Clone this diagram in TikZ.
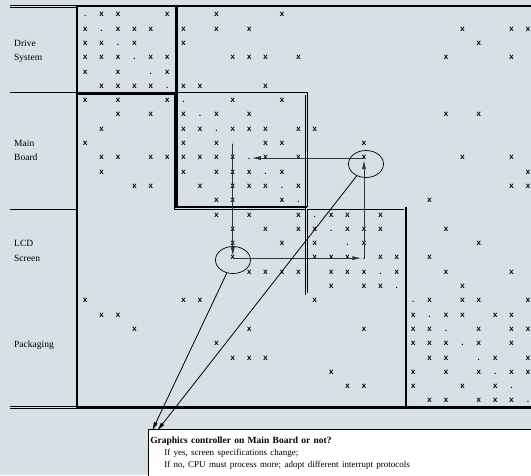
\documentclass[tikz,border=0pt]{standalone}
\usepackage{fontspec}
\setmainfont{Liberation Serif}
\newfontfamily\cellfont{Liberation Mono}
\usetikzlibrary{arrows.meta,shapes.geometric}
\definecolor{panel}{RGB}{214,224,229}
\begin{document}
\begin{tikzpicture}[x=1pt,y=-1pt,
  dsmx/.style={inner sep=0pt,text height=3.6pt,text depth=0pt,font=\cellfont\bfseries\fontsize{8}{8}\selectfont},
  rowname/.style={anchor=base west,inner sep=0pt,font=\fontsize{9.5}{11}\selectfont},
  rule/.style={line width=0.6pt,double=panel,double distance=1.6pt},
  heavy/.style={line width=2.8pt},
  flow/.style={line width=0.8pt,draw=black!80,-{Latex[length=9pt,width=4pt]}},
  ring/.style={draw,ellipse,line width=0.7pt,inner sep=0pt,minimum width=35pt,minimum height=27pt}]
\fill[panel] (0,0) rectangle (531,475);
\useasboundingbox (0,0) rectangle (531,475);
% row labels
\node[rowname] (drv1) at (14,46) {Drive};
\node[rowname] (drv2) at (14,60) {System};
\node[rowname] (brd1) at (14,146.7) {Main};
\node[rowname] (brd2) at (14,160.7) {Board};
\node[rowname] (lcd1) at (14,246.7) {LCD};
\node[rowname] (lcd2) at (14,261) {Screen};
\node[rowname] (pkg1) at (14,347.7) {Packaging};
% label column rules
\foreach \y in {6.5,93.7,208.1,293.9,407.5}
  \draw[rule] (10,\y) -- (77,\y);
% block frames
\draw[rule] (175.4,93.7) rectangle (306.6,208.1);
\draw[rule] (306.6,208.1) rectangle (405,293.9);
\draw[rule] (405,293.9) rectangle (540,407.5);
\draw[heavy] (77,5) -- (77,409);
\draw[heavy] (77,6) -- (531,6);
\draw[heavy] (77,407.5) -- (531,407.5);
\draw[heavy] (176.5,6) -- (176.5,207) -- (306.6,207);
\draw[heavy] (77,93.7) -- (176.5,93.7);
\draw[heavy] (406,207) -- (406,408);
% matrix entries
\foreach \r/\cols in {1/{2,3,6,9,13},2/{1,3,4,5,7,9,11,24,27,28},3/{1,2,4,7,25},
  4/{1,2,3,5,6,10,11,12,14,23,27},5/{1,3,6},6/{2,3,4,5,7,8,12},
  7/{1,3,6,10,13},8/{3,5,7,9,11,23,25},9/{2,7,8,10,11,12,14,15},
  10/{1,7,9,12,13,18},11/{2,3,5,6,7,8,9,10,12,14,18,24,27},12/{2,7,9,10,11,13,28},
  13/{4,5,8,10,11,12,14,27,28},14/{9,10,13,22},15/{9,11,14,16,17,19},
  16/{10,12,14,15,17,18,19,23},17/{10,13,15,18,25},18/{10,15,16,17,19,20,22},
  19/{11,12,13,14,16,17,18,20,23,27},20/{16,18,19,24},21/{1,7,8,15,22,24,25,28},
  22/{2,3,21,23,24,26,27},23/{4,11,18,21,22,25,27,28},24/{9,21,22,23,25,27},
  25/{10,11,12,22,23,26,28},26/{16,21,23,25,27,28},27/{17,18,21,24,26},
  28/{22,23,25,26,27}}{
  \foreach \c in \cols
    \node[dsmx] (m-\r-\c) at ({77+(\c-0.5)*16.4},{7.9+(\r-0.5)*14.3}) {x};
  \node[dsmx] (m-\r-\r) at ({77+(\r-0.5)*16.4},{7.9+(\r-0.5)*14.3}) {.};
}
% iteration loop
\draw[flow] (m-10-10.center) -- (m-18-10.north);
\draw[flow] (m-18-10.center) -- (m-18-18.west);
\draw[flow] (m-18-18.center) -- (m-11-18.south);
\draw[flow] (m-11-18.center) -- (m-11-11.east);
\node[ring] (selA) at (366,164) {};
\node[ring] (selB) at (233,260) {};
% note
\node[draw,line width=0.6pt,fill=white,anchor=north west,inner sep=2pt,align=left,
  text width=380pt,minimum height=47pt] (note) at (148,429)
  {\textbf{\fontsize{9.5}{11}\selectfont Graphics controller on Main Board or not?}\\
   {\fontsize{9}{11}\selectfont\hspace*{14pt}If yes, screen specifications change;}\\
   {\fontsize{9}{11}\selectfont\hspace*{14pt}If no, CPU must process more; adopt different interrupt protocols}};
\coordinate (tipA) at (157,431);
\coordinate (tipB) at (152,431);
\draw[flow,draw=black] (selA) -- (tipA);
\draw[flow,draw=black] (selB) -- (tipB);
\end{tikzpicture}
\end{document}
